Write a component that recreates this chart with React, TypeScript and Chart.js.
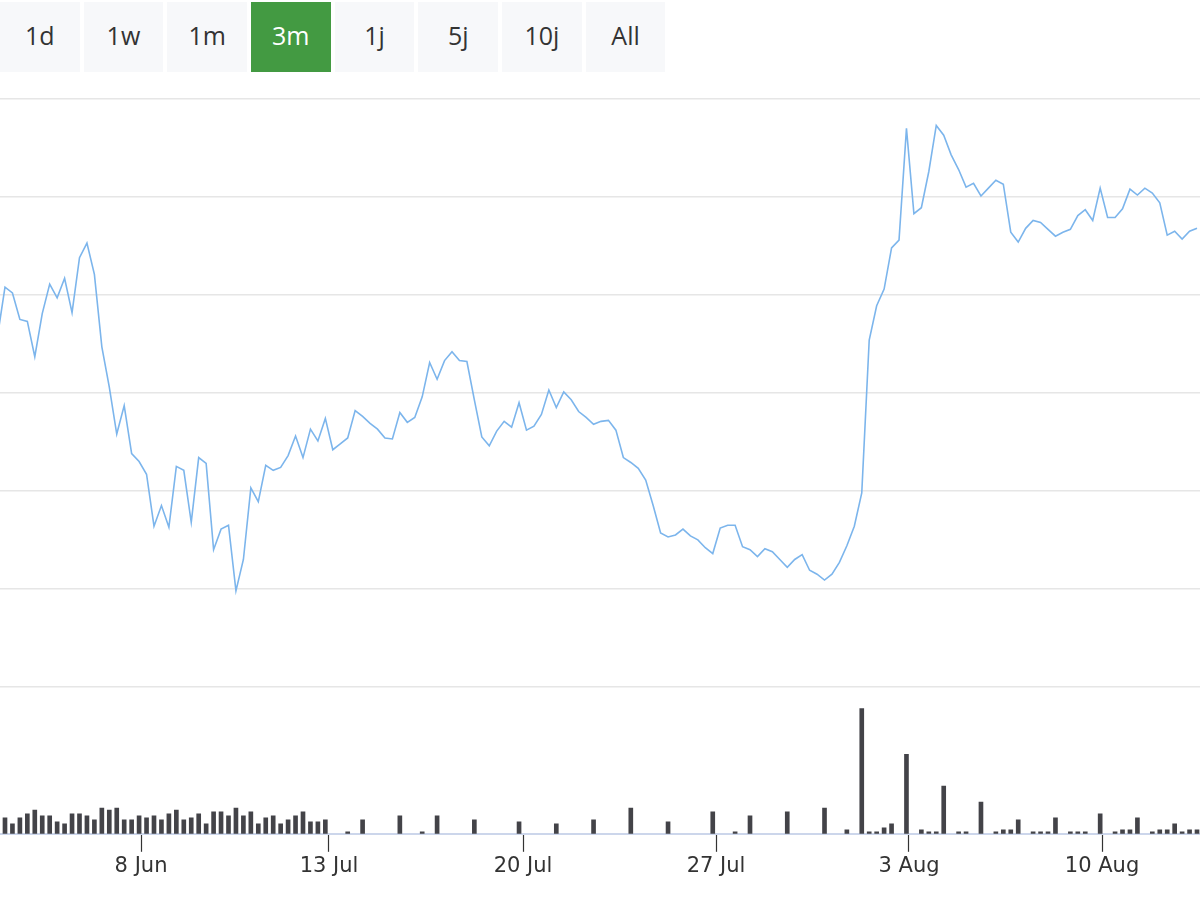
import React, { useEffect, useRef } from 'react';
import Chart from 'chart.js/auto';

// range buttons above the chart
const ranges = ['1d', '1w', '1m', '3m', '1j', '5j', '10j', 'All'];
const activeRange = '3m';

// closing price per ordinal point (daily until mid July, intraday after)
const price = [
  35.8, 40.8, 40.2, 37.5, 37.3, 33.7, 38.1, 41.1, 39.7, 41.7,
  38.2, 43.8, 45.3, 42.1, 34.7, 30.6, 25.8, 28.7, 23.8, 23.0,
  21.7, 16.4, 18.5, 16.3, 22.5, 22.1, 16.8, 23.4, 22.8, 14.0,
  16.1, 16.5, 9.8, 13.0, 20.3, 18.9, 22.6, 22.1, 22.4, 23.6,
  25.6, 23.4, 26.3, 25.1, 27.4, 24.2, 24.8, 25.4, 28.2, 27.6,
  26.9, 26.3, 25.4, 25.3, 28.0, 27.0, 27.5, 29.6, 33.1, 31.4,
  33.3, 34.2, 33.3, 33.2, 29.3, 25.5, 24.6, 26.1, 27.1, 26.5,
  29.0, 26.2, 26.6, 27.8, 30.3, 28.5, 30.1, 29.3, 28.1, 27.5,
  26.8, 27.1, 27.2, 26.2, 23.4, 22.9, 22.3, 21.1, 18.5, 15.7,
  15.3, 15.5, 16.1, 15.4, 15.0, 14.2, 13.6, 16.2, 16.5, 16.5,
  14.3, 14.0, 13.3, 14.1, 13.8, 13.0, 12.2, 13.0, 13.5, 11.9,
  11.5, 10.9, 11.5, 12.7, 14.4, 16.4, 19.8, 35.4, 38.9, 40.6,
  44.8, 45.6, 57.0, 48.3, 48.9, 52.6, 57.3, 56.3, 54.3, 52.8,
  51.0, 51.4, 50.1, 50.9, 51.7, 51.3, 46.4, 45.4, 46.8, 47.6,
  47.4, 46.7, 46.0, 46.4, 46.7, 48.1, 48.7, 47.6, 50.9, 47.9,
  47.9, 48.8, 50.8, 50.2, 50.9, 50.4, 49.4, 46.1, 46.5, 45.7,
  46.5, 46.8,
];

// traded volume per point, null where nothing was traded
const volume = [
  null, 16, 10, 16, 20, 24, 18, 18, 12, 10,
  20, 20, 18, 14, 26, 24, 26, 14, 14, 18,
  16, 18, 14, 20, 24, 14, 16, 20, 10, 22,
  22, 18, 26, 18, 22, 10, 16, 18, 10, 14,
  18, 22, 12, 12, 14, null, null, 2, null, 14,
  null, null, null, null, 18, null, null, 2, null, 18,
  null, null, null, null, 14, null, null, null, null, null,
  12, null, null, null, null, 10, null, null, null, null,
  14, null, null, null, null, 26, null, null, null, null,
  12, null, null, null, null, null, 22, null, null, 2,
  null, 18, null, null, null, null, 22, null, null, null,
  null, 26, null, null, 4, null, 126, 2, 2, 6,
  10, null, 80, null, 4, 2, 2, 48, null, 2,
  2, null, 32, null, 2, 4, 4, 14, null, 2,
  2, 2, 16, null, 2, 2, 2, null, 20, null,
  2, 4, 4, 16, null, 2, 4, 4, 10, 2,
  4, 4,
];

// date ticks on the ordinal axis (start of each day)
const tickLabels = ['8 Jun', '13 Jul', '20 Jul', '27 Jul', '3 Aug', '10 Aug'];
const tickPoints = [19.26, 44.49, 70.53, 96.44, 122.34, 148.25];

function StockChart() {
  const canvasRef = useRef<HTMLCanvasElement>(null);

  useEffect(() => {
    const chart = new Chart(canvasRef.current, {
      type: 'line',
      data: {
        datasets: [
          {
            type: 'line',
            data: price.map((y, i) => ({ x: i, y })),
            yAxisID: 'price',
            borderColor: '#7cb5ec',
            borderWidth: 1.6,
            pointRadius: 0,
            tension: 0,
          },
          {
            type: 'bar',
            data: volume.map((y, i) => ({ x: i, y })),
            yAxisID: 'volume',
            backgroundColor: '#434348',
            barThickness: 4,
          },
        ],
      },
      options: {
        animation: false,
        responsive: true,
        maintainAspectRatio: false,
        layout: { padding: { top: 27, bottom: 19, left: 0, right: 0 } },
        plugins: { legend: { display: false }, tooltip: { enabled: false } },
        scales: {
          x: {
            type: 'linear',
            min: 0.33,
            max: 161.4,
            offset: false,
            afterBuildTicks: (axis) => {
              axis.ticks = tickPoints.map((value) => ({ value }));
            },
            ticks: {
              autoSkip: false,
              maxRotation: 0,
              padding: 2,
              color: '#333333',
              font: { family: 'DejaVu Sans', size: 21 },
              callback: (value, index) => tickLabels[index],
            },
            grid: {
              offset: false,
              drawOnChartArea: false,
              tickLength: 18,
              tickColor: '#333333',
              tickWidth: 1.2,
            },
            border: { color: '#ccd6eb', width: 2 },
          },
          volume: {
            type: 'linear',
            position: 'left',
            stack: 'panes',
            stackWeight: 1,
            weight: 0,
            min: 0,
            max: 148,
            ticks: { display: false },
            grid: { display: false, drawTicks: false },
            border: { display: false },
          },
          price: {
            type: 'linear',
            position: 'left',
            stack: 'panes',
            stackWeight: 4,
            weight: 1,
            min: 0,
            max: 60,
            ticks: { display: false, stepSize: 10 },
            grid: { color: '#e6e6e6', lineWidth: 1.4, drawTicks: false },
            border: { display: false },
          },
        },
      },
    });

    return () => {
      chart.destroy();
    };
  }, []);

  return <canvas ref={canvasRef} />;
}

export default function App() {
  return (
    <div style={{ width: 1200, height: 900 }}>
      <style>{'body { margin: 0; }'}</style>
      <div style={{ display: 'flex', height: 72, paddingTop: 2, boxSizing: 'border-box' }}>
        {ranges.map((r) => (
          <div
            key={r}
            style={{
              width: 79.5,
              height: 70,
              marginRight: 4.2,
              lineHeight: '66px',
              textAlign: 'center',
              fontFamily: 'Open Sans',
              fontSize: 25,
              background: r === activeRange ? '#439a42' : '#f7f8fa',
              color: r === activeRange ? '#ffffff' : '#333333',
            }}
          >
            {r}
          </div>
        ))}
      </div>
      <div style={{ position: 'relative', height: 828 }}>
        <StockChart />
      </div>
    </div>
  );
}
